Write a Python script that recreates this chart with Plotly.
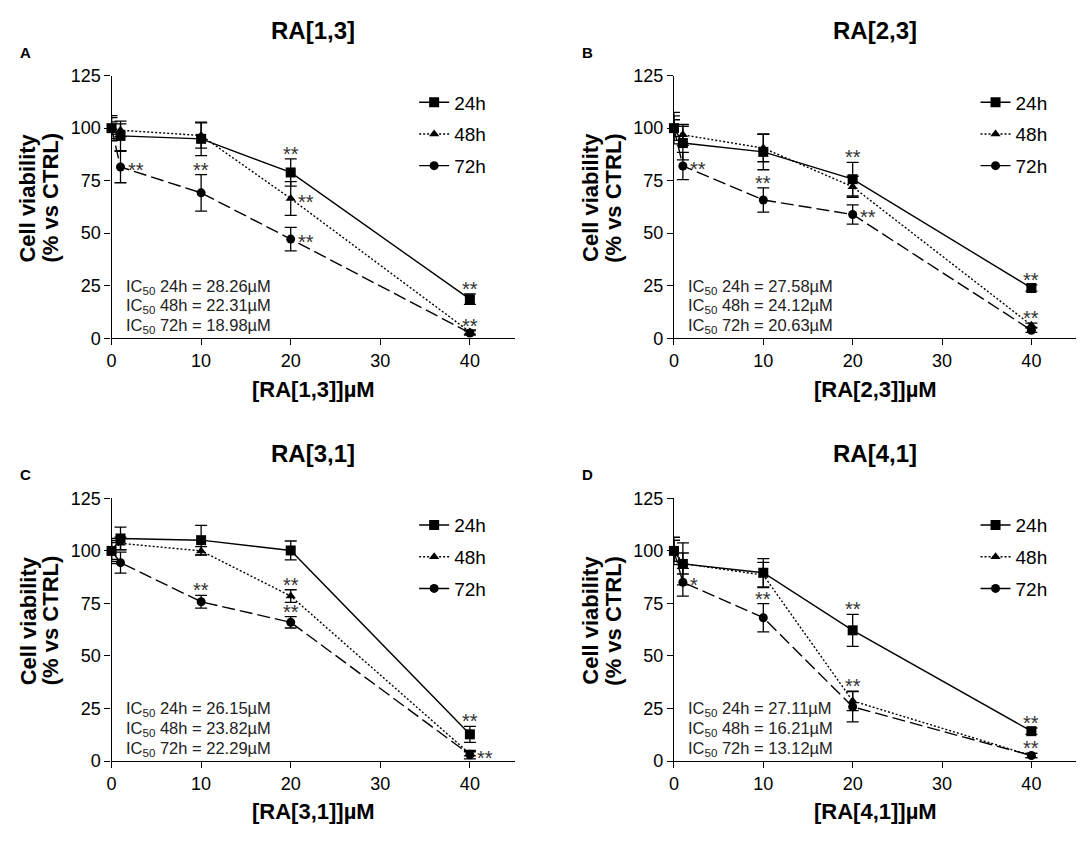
import plotly.graph_objects as go

# dosi comuni (µM)
doses = [0, 1, 10, 20, 40]
series = ["24h", "48h", "72h"]

# RA[1,3]
a_24 = [100, 96.3, 94.9, 78.9, 18.6]
a_48 = [100, 99.0, 96.5, 66.5, 3.0]
a_72 = [100, 81.5, 69.2, 47.2, 2.5]
a_24_err = [6, 7, 8, 6.5, 2.5]
a_48_err = [3, 3, 6, 8, 1]
a_72_err = [5, 7.5, 8.7, 5.6, 1]
a_ic50 = [28.26, 22.31, 18.98]

# RA[2,3]
b_24 = [100, 92.9, 88.7, 75.7, 23.9]
b_48 = [100, 96.8, 90.5, 72.1, 6.2]
b_72 = [100, 82.0, 65.8, 58.9, 3.8]
b_24_err = [7.5, 8, 8.5, 8, 1.5]
b_48_err = [5.8, 5, 6.5, 5, 1]
b_72_err = [4, 6.5, 5.8, 4.6, 1]
b_ic50 = [27.58, 24.12, 20.63]

# RA[3,1]
c_24 = [100, 105.9, 105.1, 100.2, 12.7]
c_48 = [100, 103.6, 100.0, 78.5, 3.4]
c_72 = [100, 94.4, 75.8, 66.0, 3.0]
c_24_err = [6, 5.4, 7, 4.5, 3.8]
c_48_err = [4, 3, 2, 3, 1]
c_72_err = [5, 5, 3, 2.7, 2]
c_ic50 = [26.15, 23.82, 22.29]

# RA[4,1]
d_24 = [100, 93.8, 89.6, 62.2, 14.2]
d_48 = [100, 94.0, 88.5, 28.6, 2.6]
d_72 = [100, 85.1, 68.2, 25.8, 2.6]
d_24_err = [6.5, 10, 6.7, 7.6, 1.5]
d_48_err = [5, 5, 6, 4.6, 1]
d_72_err = [5, 6.6, 6.7, 7.2, 1]
d_ic50 = [27.11, 16.21, 13.12]

# significatività: (serie, indice dose, testo, posizione)
a_sig = [("24h", 3, "**", "up"), ("24h", 4, "**", "up"), ("48h", 3, "**", "right"),
         ("72h", 1, "**", "right"), ("72h", 2, "**", "up"), ("72h", 3, "**", "right"),
         ("72h", 4, "**", "up")]
b_sig = [("24h", 3, "**", "up"), ("24h", 4, "**", "up"), ("48h", 4, "**", "up"),
         ("72h", 1, "**", "right"), ("72h", 2, "**", "up"), ("72h", 3, "**", "right")]
c_sig = [("24h", 4, "**", "up"), ("48h", 3, "**", "up"), ("72h", 2, "**", "up"),
         ("72h", 3, "**", "up"), ("72h", 4, "**", "right")]
d_sig = [("24h", 3, "**", "up"), ("24h", 4, "**", "up"), ("48h", 3, "**", "up"),
         ("72h", 1, "*", "right"), ("72h", 2, "**", "up"), ("72h", 4, "**", "up")]

panels = [
    dict(letter="A", name="RA[1,3]", vals=[a_24, a_48, a_72], errs=[a_24_err, a_48_err, a_72_err], ic50=a_ic50, sig=a_sig),
    dict(letter="B", name="RA[2,3]", vals=[b_24, b_48, b_72], errs=[b_24_err, b_48_err, b_72_err], ic50=b_ic50, sig=b_sig),
    dict(letter="C", name="RA[3,1]", vals=[c_24, c_48, c_72], errs=[c_24_err, c_48_err, c_72_err], ic50=c_ic50, sig=c_sig),
    dict(letter="D", name="RA[4,1]", vals=[d_24, d_48, d_72], errs=[d_24_err, d_48_err, d_72_err], ic50=d_ic50, sig=d_sig),
]

W, H = 1084, 846
OFF = 8  # margine del body della pagina
FONT = "Arial, Liberation Sans, sans-serif"
# riquadri in pixel della pagina: (x sinistra, x destra, y alto, y basso)
boxes = [(107, 512, 67, 336), (672, 1076, 67, 336), (107, 512, 500, 769), (672, 1076, 500, 769)]
symbols = ["square", "triangle-up", "circle"]
dashes = ["solid", "2px,2px", "13px,5px"]
msizes = [10, 9, 9]


def px(v):
    return (v - OFF) / W


def py(v):
    return 1 - (v - OFF) / H


fig = go.Figure()
annotations = []

for i, p in enumerate(panels):
    x0, x1, yt, yb = boxes[i]
    sfx = "" if i == 0 else str(i + 1)
    xa, ya = "x" + sfx, "y" + sfx
    leg = "legend" + sfx
    for k, s in enumerate(series):
        fig.add_trace(go.Scatter(
            x=doses, y=p["vals"][k], name=s, xaxis=xa, yaxis=ya, legend=leg,
            legendgroup=f"{p['letter']}{s}", mode="lines+markers", cliponaxis=False,
            line=dict(color="black", width=1.4, dash=dashes[k]),
            marker=dict(symbol=symbols[k], size=msizes[k], color="black"),
            error_y=dict(type="data", array=p["errs"][k], color="black", thickness=1.3, width=6),
        ))
    axis_style = dict(showline=True, linecolor="black", linewidth=1.3, ticks="outside",
                      ticklen=6, tickwidth=1.3, tickcolor="black", showgrid=False, zeroline=False,
                      tickfont=dict(family=FONT, size=18, color="black"))
    fig.update_layout({
        "xaxis" + sfx: dict(domain=[px(x0), px(x1)], anchor=ya, range=[0, 45],
                            tickvals=[0, 10, 20, 30, 40], **axis_style),
        "yaxis" + sfx: dict(domain=[py(yb), py(yt)], anchor=xa, range=[0, 125],
                            tickvals=[0, 25, 50, 75, 100, 125], **axis_style),
        leg: dict(x=px(x1 - 101), y=py(yt + 8), xanchor="left", yanchor="top",
                  bgcolor="rgba(0,0,0,0)", tracegroupgap=4,
                  font=dict(family=FONT, size=19, color="black")),
    })
    cx = (x0 + x1) / 2
    # titolo, lettera, assi
    annotations.append(dict(text=f"<b>{p['name']}</b>", x=px(cx), y=py(yt - 46), xref="paper", yref="paper",
                            xanchor="center", yanchor="middle", showarrow=False,
                            font=dict(family=FONT, size=24, color="black")))
    annotations.append(dict(text=f"<b>{p['letter']}</b>", x=px(x0 - 94), y=py(yt - 24), xref="paper", yref="paper",
                            xanchor="left", yanchor="middle", showarrow=False,
                            font=dict(family=FONT, size=15, color="black")))
    annotations.append(dict(text=f"<b>[{p['name']}]µM</b>", x=px(cx), y=py(yb + 52), xref="paper", yref="paper",
                            xanchor="center", yanchor="middle", showarrow=False,
                            font=dict(family=FONT, size=22, color="black")))
    for dx, line in [(-84, "Cell viability"), (-61, "(% vs CTRL)")]:
        annotations.append(dict(text=f"<b>{line}</b>", x=px(x0 + dx), y=py(yt + 125),
                                xref="paper", yref="paper", xanchor="center", yanchor="middle",
                                showarrow=False, textangle=-90,
                                font=dict(family=FONT, size=22, color="black")))
    # IC50
    for k, s in enumerate(series):
        annotations.append(dict(text=f"IC<sub>50</sub> {s} = {p['ic50'][k]:.2f}µM", x=0.03, y=0.197 - 0.076 * k,
                                xref=xa + " domain", yref=ya + " domain", xanchor="left", yanchor="middle",
                                showarrow=False, font=dict(family=FONT, size=16.5, color="#222")))
    # asterischi
    for s, j, txt, pos in p["sig"]:
        k = series.index(s)
        v, e = p["vals"][k][j], p["errs"][k][j]
        if pos == "up":
            annotations.append(dict(text=txt, x=doses[j], y=v + e, xref=xa, yref=ya, xanchor="center",
                                    yanchor="bottom", yshift=-8, showarrow=False,
                                    font=dict(family=FONT, size=20, color="#333")))
        else:
            annotations.append(dict(text=txt, x=doses[j], y=v, xref=xa, yref=ya, xanchor="left",
                                    yanchor="middle", xshift=5, yshift=-3, showarrow=False,
                                    font=dict(family=FONT, size=20, color="#333")))

fig.update_layout(
    width=W, height=H, margin=dict(l=0, r=0, t=0, b=0),
    paper_bgcolor="white", plot_bgcolor="white", showlegend=True,
    annotations=annotations,
)

fig.write_html("out.html")
